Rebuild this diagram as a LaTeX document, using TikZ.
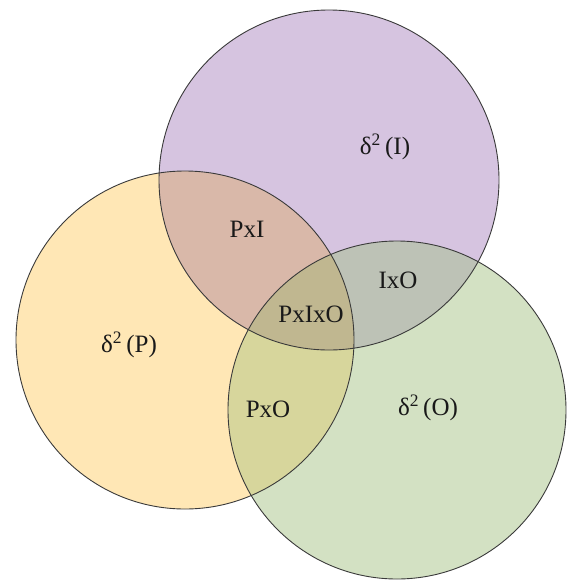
\documentclass[tikz,border=0pt]{standalone}
\usepackage{fontspec}
\setmainfont{Liberation Serif}
\definecolor{pcol}{HTML}{FFE7B5}
\definecolor{icol}{HTML}{D6C4E0}
\definecolor{ocol}{HTML}{D3E1C3}
\definecolor{picol}{HTML}{D9B8A9}
\definecolor{iocol}{HTML}{BDC2B6}
\definecolor{pocol}{HTML}{D7D69C}
\definecolor{piocol}{HTML}{C0B790}
\definecolor{edge}{HTML}{3A3A3A}
\begin{document}
\begin{tikzpicture}[x=1pt,y=-1pt,
  ring/.style={draw=edge, line width=0.9pt},
  lbl/.style={font=\fontsize{25}{30}\selectfont, inner sep=0pt, text=black!90}]
\useasboundingbox (0,0) rectangle (569,584);
% circle centres
\coordinate (cI) at (329,180);
\coordinate (cP) at (185,340);
\coordinate (cO) at (397,410);
\def\rI{170pt}
\def\rP{169pt}
\def\rO{169pt}
% base fills
\fill[pcol] (cP) circle[radius=\rP];
\fill[icol] (cI) circle[radius=\rI];
\fill[ocol] (cO) circle[radius=\rO];
% pairwise overlaps
\begin{scope}
  \clip (cP) circle[radius=\rP];
  \fill[picol] (cI) circle[radius=\rI];
\end{scope}
\begin{scope}
  \clip (cI) circle[radius=\rI];
  \fill[iocol] (cO) circle[radius=\rO];
\end{scope}
\begin{scope}
  \clip (cP) circle[radius=\rP];
  \fill[pocol] (cO) circle[radius=\rO];
\end{scope}
% triple overlap
\begin{scope}
  \clip (cP) circle[radius=\rP];
  \clip (cI) circle[radius=\rI];
  \fill[piocol] (cO) circle[radius=\rO];
\end{scope}
% outlines
\draw[ring] (cI) circle[radius=\rI];
\draw[ring] (cP) circle[radius=\rP];
\draw[ring] (cO) circle[radius=\rO];
% labels
\node[lbl] (lI) at (385,147) {δ\textsuperscript{2}\,(I)};
\node[lbl] (lP) at (129,345) {δ\textsuperscript{2}\,(P)};
\node[lbl] (lO) at (428,408) {δ\textsuperscript{2}\,(O)};
\node[lbl] (lPI) at (247,229) {PxI};
\node[lbl] (lIO) at (398,280) {IxO};
\node[lbl] (lPIO) at (311,314) {PxIxO};
\node[lbl] (lPO) at (268,409) {PxO};
\end{tikzpicture}
\end{document}
